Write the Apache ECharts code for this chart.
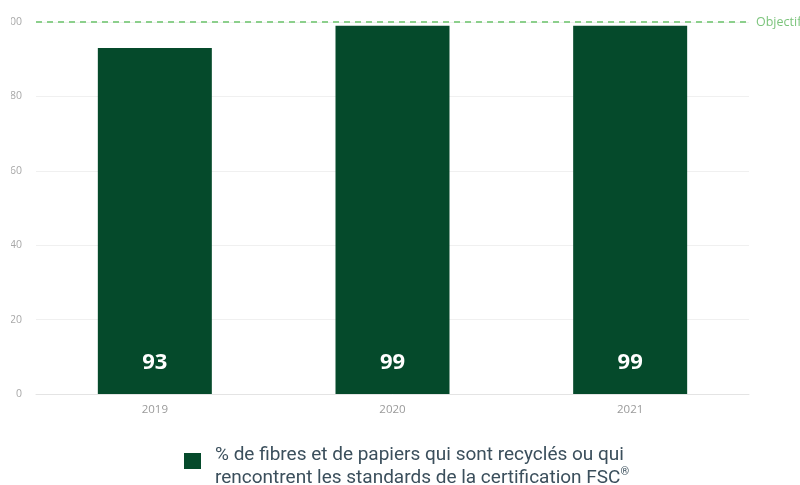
<!DOCTYPE html>
<html>
<head>
<meta charset="utf-8">
<script src="https://cdn.jsdelivr.net/npm/echarts@6/dist/echarts.min.js"></script>
<style>html,body{margin:0;padding:0;background:#fff;}#c{width:800px;height:485px;}</style>
</head>
<body>
<div id="c"></div>
<script>
var categories = ['2019', '2020', '2021'];
var values = [93, 99, 99];
var objective = 100;
var yTicks = [0, 20, 40, 60, 80, 100];
var seriesName = '% de fibres et de papiers qui sont recyclés ou qui\nrencontrent les standards de la certification FSC';

var chart = echarts.init(document.getElementById('c'));
chart.setOption({
  animation: false,
  grid: { left: 36, right: 51, top: 22, bottom: 91 },
  xAxis: {
    type: 'category',
    data: categories,
    axisLine: { lineStyle: { color: '#e4e4e4' } },
    axisTick: { show: false },
    axisLabel: { color: '#9a9a9a', fontSize: 11.5, fontFamily: 'Open Sans', margin: 10 }
  },
  yAxis: {
    type: 'value',
    min: yTicks[0],
    max: yTicks[yTicks.length - 1],
    interval: 20,
    axisLine: { show: false },
    axisTick: { show: false },
    splitLine: { lineStyle: { color: '#f0f0f0' } },
    axisLabel: { color: '#a8a8a8', fontSize: 10.5, fontFamily: 'Open Sans', margin: 14 }
  },
  legend: {
    left: 184, top: 432,
    padding: 0,
    itemWidth: 17, itemHeight: 16,
    icon: 'rect',
    formatter: function (n) { return n + '{sup|®}'; },
    textStyle: {
      color: '#3b4f5c', fontSize: 19, fontFamily: 'Roboto', lineHeight: 23, padding: [12, 0, 0, 9],
      rich: { sup: { fontSize: 11, verticalAlign: 'top', color: '#3b4f5c', padding: [0, 0, 10, 0] } }
    },
    data: [seriesName]
  },
  series: [{
    name: seriesName,
    type: 'bar',
    data: values,
    barWidth: 114,
    itemStyle: { color: '#054a2b' },
    label: {
      show: true, position: 'insideBottom', distance: 20,
      color: '#ffffff', fontSize: 22, fontWeight: 'bold', fontFamily: 'Open Sans'
    },
    markLine: {
      silent: true,
      symbol: 'none',
      data: [{ yAxis: objective }],
      lineStyle: { color: '#8ccf8c', type: [6, 5], width: 2 },
      label: { position: 'end', formatter: 'Objectif', color: '#7cc47c', fontSize: 12.5, fontFamily: 'Open Sans', distance: 7 }
    }
  }],
  graphic: [{
    type: 'rect', left: 0, top: 0, z: 100,
    shape: { width: 11, height: 420 },
    style: { fill: '#ffffff' }
  }]
});
</script>
</body>
</html>
